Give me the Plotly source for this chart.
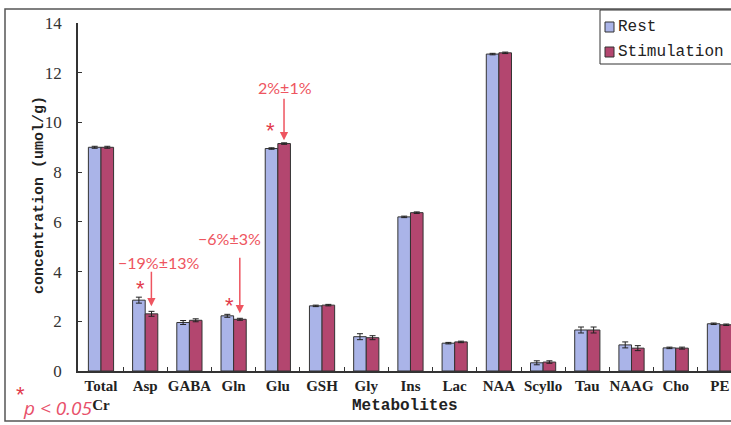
import plotly.graph_objects as go

# ---------------- data ----------------
categories = ["Total<br>Cr", "Asp", "GABA", "Gln", "Glu", "GSH", "Gly", "Ins",
              "Lac", "NAA", "Scyllo", "Tau", "NAAG", "Cho", "PE"]
rest = [9.0, 2.85, 1.95, 2.22, 8.95, 2.62, 1.38, 6.2, 1.12, 12.75, 0.33, 1.65, 1.05, 0.93, 1.9]
stim = [9.0, 2.3, 2.04, 2.08, 9.15, 2.65, 1.34, 6.37, 1.17, 12.8, 0.36, 1.65, 0.92, 0.92, 1.86]
rest_err = [0.04, 0.12, 0.08, 0.06, 0.03, 0.03, 0.12, 0.03, 0.03, 0.03, 0.08, 0.12, 0.12, 0.03, 0.03]
stim_err = [0.04, 0.10, 0.06, 0.04, 0.03, 0.03, 0.08, 0.03, 0.03, 0.03, 0.05, 0.12, 0.10, 0.04, 0.03]
y_ticks = [0, 2, 4, 6, 8, 10, 12, 14]
changes = {"Asp": "\u221219%\u00b113%", "Gln": "\u22126%\u00b13%", "Glu": "2%\u00b11%"}

REST_C = "#aab4e8"
STIM_C = "#b3466f"
RED = "#ee5560"
W, H = 731, 425
L, R, T, B = 78, 0, 23, 54
pw, ph = W - L - R, H - T - B

def px(x):
    return (x - L) / pw

def py(y):
    return (H - B - y) / ph

fig = go.Figure()
fig.add_trace(go.Bar(
    x=categories, y=rest, name="Rest",
    marker=dict(color=REST_C, line=dict(color="#333", width=1)),
    error_y=dict(type="data", array=rest_err, color="#222", thickness=1, width=3),
))
fig.add_trace(go.Bar(
    x=categories, y=stim, name="Stimulation",
    marker=dict(color=STIM_C, line=dict(color="#333", width=1)),
    error_y=dict(type="data", array=stim_err, color="#222", thickness=1, width=3),
))

ann = []
shapes = []
idx = {c: i for i, c in enumerate(categories)}
text_pos = {"Asp": (1.31, 4.38, -36, 0.9, 3.32),
            "Gln": (2.9, 5.35, -57, 2.9, 2.65),
            "Glu": (4.16, 11.42, -43, 3.84, 9.69)}
for name, label in changes.items():
    i = idx[name]
    tx, ty, ay, sx, sy = text_pos[name]
    tip = stim[i] + stim_err[i] + (0.2 if name != "Glu" else 0.1)
    ann.append(dict(x=i + 0.14, y=tip, xref="x", yref="y", text="", showarrow=True,
                    arrowhead=2, arrowsize=1.1, arrowwidth=1.5, arrowcolor=RED,
                    ax=0, ay=ay))
    ann.append(dict(x=tx, y=ty, xref="x", yref="y", text=label, showarrow=False,
                    font=dict(family="Lato", size=16, color=RED)))
    ann.append(dict(x=sx, y=sy, xref="x", yref="y", text="*", showarrow=False,
                    font=dict(family="Liberation Sans", size=22, color="#e23a4c")))

def pann(x, y, text, font, xanchor="center", **kw):
    ann.append(dict(x=px(x), y=py(y), xref="paper", yref="paper", text=text,
                    xanchor=xanchor, yanchor="middle", showarrow=False, font=font, **kw))

# axis titles
pann(40, 195, "<b>concentration (umol/g)</b>",
     dict(family="Liberation Mono", size=15, color="#222"), textangle=-90)
pann(405, 406, "<b>Metabolites</b>", dict(family="Liberation Mono", size=16, color="#222"))
# p-value note
pann(20, 394, "*", dict(family="Liberation Sans", size=22, color="#e23a4c"))
pann(21, 408, "<i>p &lt; 0.05</i>", dict(family="Open Sans", size=19, color="#e8506a"),
     xanchor="left")

# manual legend
shapes.append(dict(type="rect", xref="paper", yref="paper", x0=px(600), x1=px(740),
                   y0=py(64), y1=py(10), line=dict(color="#333", width=1), fillcolor="white"))
for lab, col, yc in [("Rest", REST_C, 27), ("Stimulation", STIM_C, 52)]:
    shapes.append(dict(type="rect", xref="paper", yref="paper", x0=px(605), x1=px(614),
                       y0=py(yc + 5), y1=py(yc - 5), line=dict(color="#333", width=1),
                       fillcolor=col))
    pann(616, yc, lab, dict(family="Liberation Mono", size=16, color="#222"), xanchor="left")

# outer frame
shapes.append(dict(type="rect", xref="paper", yref="paper", x0=px(5), x1=px(745),
                   y0=py(421), y1=py(9), line=dict(color="#555", width=1.5), layer="below"))

fig.update_layout(
    width=W, height=H,
    margin=dict(l=L, r=R, t=T, b=B),
    paper_bgcolor="white", plot_bgcolor="white",
    barmode="group", bargap=0.43, bargroupgap=0,
    showlegend=False,
    annotations=ann, shapes=shapes,
)
fig.update_xaxes(
    range=[-0.52, 14.25], showline=True, linecolor="#333", linewidth=1.5,
    ticks="inside", tickson="boundaries", ticklen=4, tickcolor="#333",
    tickfont=dict(family="Liberation Serif", size=15, color="#222"),
    tickangle=0, automargin=False,
    showgrid=False, zeroline=False,
    ticktext=["<b>" + c + "</b>" for c in categories], tickvals=categories,
)
fig.update_yaxes(
    range=[0, 14], tickvals=y_ticks, showline=True, linecolor="#333", linewidth=1.5,
    ticks="inside", ticklen=4, tickcolor="#333", automargin=False,
    ticklabelstandoff=11,
    tickfont=dict(family="Liberation Serif", size=17, color="#333"),
    showgrid=False, zeroline=False,
)

fig.write_html("out.html", config={"displayModeBar": False},
               post_script="document.body.style.margin='0px';document.body.style.overflow='hidden';")
